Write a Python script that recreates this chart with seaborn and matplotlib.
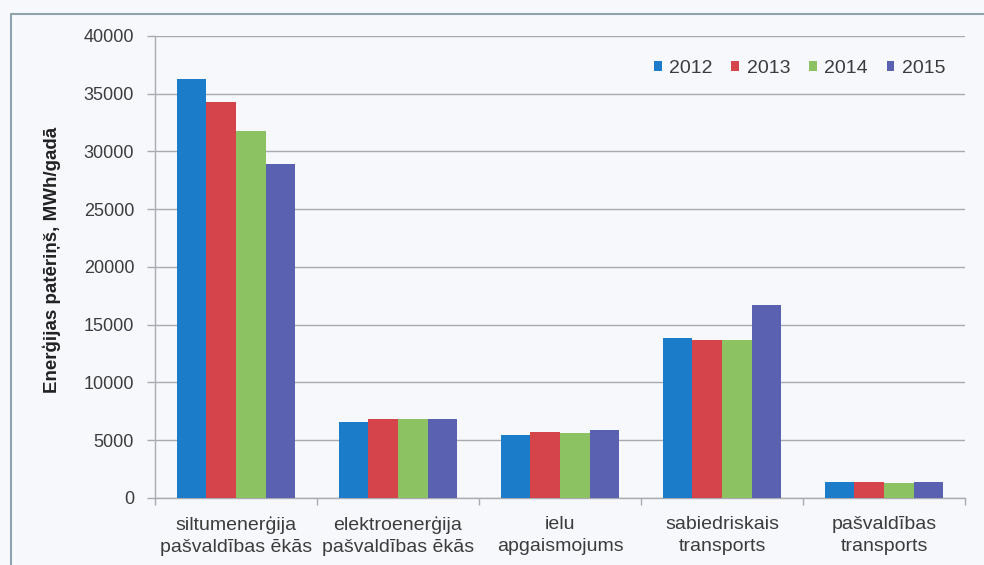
import matplotlib
matplotlib.use("Agg")
import matplotlib.pyplot as plt
from matplotlib.ticker import FixedLocator
import seaborn as sns
import pandas as pd

categories = [
    "siltumenerģija\npašvaldības ēkās",
    "elektroenerģija\npašvaldības ēkās",
    "ielu\napgaismojums",
    "sabiedriskais\ntransports",
    "pašvaldības\ntransports",
]
years = ["2012", "2013", "2014", "2015"]
values_2012 = [36300, 6600, 5450, 13850, 1350]
values_2013 = [34300, 6850, 5750, 13700, 1350]
values_2014 = [31800, 6800, 5600, 13650, 1300]
values_2015 = [28900, 6800, 5900, 16700, 1350]
colors = ["#1b7cc9", "#d6444b", "#8dc263", "#5a61b1"]

series = [values_2012, values_2013, values_2014, values_2015]
df = pd.DataFrame(
    [(c, y, v) for y, vals in zip(years, series) for c, v in zip(categories, vals)],
    columns=["kategorija", "gads", "vertiba"],
)

sns.set_theme(style="white")
plt.rcParams["font.family"] = ["Liberation Sans", "DejaVu Sans"]

bg = "#f7f8fc"
grid_c = "#a9abb0"
fig = plt.figure(figsize=(9.84, 5.65), dpi=100, facecolor=bg)
ax = fig.add_axes([0.1575, 0.1186, 0.8232, 0.8177])
ax.set_facecolor(bg)

sns.barplot(data=df, x="kategorija", y="vertiba", hue="gads", hue_order=years,
            order=categories, palette=colors, width=0.73, gap=0,
            saturation=1, errorbar=None, linewidth=0, edgecolor="none",
            ax=ax, zorder=3)

ax.set_ylim(0, 40000)
ax.set_xlim(-0.5, len(categories) - 0.5)
ax.set_yticks(range(0, 40001, 5000))
ax.set_yticklabels([str(v) for v in range(0, 40001, 5000)], fontsize=13, color="#3c3c3c")
ax.yaxis.grid(True, color=grid_c, linewidth=1.0, zorder=0)
ax.set_axisbelow(True)

ax.set_xlabel("")
ax.set_ylabel("Enerģijas patēriņš, MWh/gadā", fontsize=13.5, fontweight="bold",
              color="#222222")
ax.yaxis.set_label_coords(-0.116, 0.515)
ax.tick_params(axis="x", length=0, labelsize=14, labelcolor="#3c3c3c", pad=13)
for lbl in ax.get_xticklabels():
    lbl.set_linespacing(1.35)
ax.tick_params(axis="y", left=True, length=6, color=grid_c, width=1, pad=9)
ax.xaxis.set_minor_locator(FixedLocator([i + 0.5 for i in range(-1, len(categories))]))
ax.tick_params(axis="x", which="minor", bottom=True, length=5, color=grid_c, width=1)

for s in ["top", "right"]:
    ax.spines[s].set_visible(False)
for s in ["left", "bottom"]:
    ax.spines[s].set_color(grid_c)
    ax.spines[s].set_linewidth(1.0)

leg = ax.legend(ncol=4, loc="center right", bbox_to_anchor=(0.976, 0.93),
                borderaxespad=0, borderpad=0, frameon=False,
                fontsize=14, handlelength=0.4, handleheight=0.4,
                handletextpad=0.4, columnspacing=0.95)
for t in leg.get_texts():
    t.set_color("#3c3c3c")

# outer chart frame (top and left edges)
fig.add_artist(plt.Line2D([0.011, 1.0], [1 - 14 / 565, 1 - 14 / 565],
                          transform=fig.transFigure, color="#8fa3ad", linewidth=1.5))
fig.add_artist(plt.Line2D([0.011, 0.011], [0.0, 1 - 14 / 565],
                          transform=fig.transFigure, color="#8fa3ad", linewidth=1.5))

fig.savefig("out.png", dpi=100, facecolor=bg)
